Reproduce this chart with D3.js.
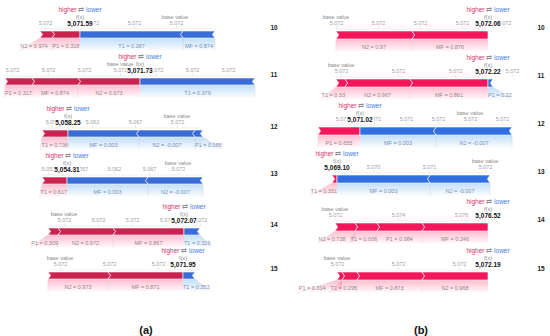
<!DOCTYPE html>
<html>
<head>
<meta charset="utf-8">
<script src="https://cdn.jsdelivr.net/npm/d3@7"></script>
<style>
  body { margin: 0; background: #fff; }
  svg { display: block; }
  text { font-family: "Liberation Sans", Arial, sans-serif; }
</style>
</head>
<body>
<div id="vis"></div>
<script>
// force plots for rows 10..15, panel (a) and panel (b)
const rowIds = ["10", "11", "12", "13", "14", "15"];
const captions = ["(a)", "(b)"];

// model output f(x) of each row
const fxA = [5071.59, 5071.73, 5058.25, 5054.31, 5072.07, 5071.95];
const fxB = [5072.06, 5072.22, 5071.02, 5069.10, 5076.52, 5072.19];

// features left to right: [name, feature value, effect]; effect > 0 pushes higher (red)
const featA = [
  [["N2", "0.974", 12], ["P1", "0.318", 28], ["T1", "0.387", -103], ["MF", "0.874", -32]],
  [["P1", "0.317", 27], ["MF", "0.874", 46], ["N2", "0.973", 62], ["T1", "0.379", -115]],
  [["T1", "0.736", 26], ["MF", "0.003", -71], ["N2", "-0.007", -56], ["P1", "0.588", -8]],
  [["T1", "0.617", 25], ["MF", "0.003", -81], ["N2", "-0.007", -55]],
  [["P1", "0.309", 10], ["N2", "0.972", 55], ["MF", "0.867", 71], ["T1", "0.326", -16]],
  [["N2", "0.973", 60], ["MF", "0.871", 75], ["T1", "0.353", -12]]
];
const featB = [
  [["N2", "0.97", 76], ["MF", "0.876", 76]],
  [["T1", "0.33", 9], ["N2", "0.967", 65], ["MF", "0.861", 78], ["P1", "0.32", -5]],
  [["P1", "0.655", 42], ["MF", "0.003", -76], ["N2", "-0.007", -76]],
  [["T1", "0.351", 5], ["MF", "0.003", -93], ["N2", "-0.007", -60]],
  [["N2", "0.738", 20], ["T1", "0.006", 22], ["P1", "0.984", 45], ["MF", "0.246", 66]],
  [["P1", "0.314", 5], ["T1", "0.295", 15], ["MF", "0.873", 65], ["N2", "0.968", 66]]
];

// axis ticks: [offset from f(x) in effect units, label]
const tickA = [
  [[-35, "5.072"], [12, "5.072"], [54, "5.072"], [96, "5.072"]],
  [[-128, "5.072"], [-92, "5.072"], [-56, "5.072"], [-20, "5.072"], [16, "5.072"], [52, "5.072"], [88, "5.072"]],
  [[-16, "5.057"], [24, "5.062"], [67, "5.067"], [109, "5.072"]],
  [[-19, "5.052"], [14, "5.057"], [47, "5.062"], [82, "5.067"], [111, "5.072"]],
  [[-120, "5.072"], [-86, "5.072"], [-52, "5.072"], [-18, "5.072"], [16, "5.072"]],
  [[-123, "5.072"], [-74, "5.072"], [-25, "5.072"]]
];
const tickB = [
  [[-152, "5.072"], [-110, "5.072"], [-68, "5.072"], [-26, "5.072"], [16, "5.072"]],
  [[-147, "5.072"], [-90, "5.072"], [-33, "5.072"], [24, "5.072"]],
  [[-18, "5.071"], [14, "5.071"], [46, "5.071"], [78, "5.072"], [110, "5.072"], [142, "5.072"]],
  [[36, "5.070"], [92, "5.071"], [148, "5.072"]],
  [[-153, "5.072"], [-90, "5.074"], [-27, "5.076"]],
  [[-151, "5.072"], [-90, "5.072"], [-29, "5.072"]]
];

// layout
const W = 550, H = 336;
const leftA = [40, 5, 42, 42, 48, 48], topA = [31, 78, 130, 177, 228, 272];
const leftB = [336, 336, 318, 332, 335, 337], topB = [31, 79, 127, 175, 223, 272];
const styleA = { red: "#c9234f", blue: "#3a6cd8", h: 7, idX: 274, capX: 146 };
const styleB = { red: "#f2165a", blue: "#2f6fe0", h: 8, idX: 541, capX: 421 };

const svg = d3.select("#vis").append("svg").attr("width", W).attr("height", H);
const defs = svg.append("defs");

function grad(id, color) {
  const g = defs.append("linearGradient").attr("id", id)
    .attr("x1", 0).attr("y1", 0).attr("x2", 0).attr("y2", 1);
  g.append("stop").attr("offset", "0%").attr("stop-color", color).attr("stop-opacity", 0.28);
  g.append("stop").attr("offset", "100%").attr("stop-color", color).attr("stop-opacity", 0.02);
}
grad("gRed", "#ff0d57");
grad("gBlue", "#1e88e5");

const fmtFx = d3.format(",.2f");

function drawForce(feats, fx, ticks, left, top, st) {
  const g = svg.append("g");
  const h = st.h, tip = 2.6;
  const redSum = d3.sum(feats.filter(f => f[2] > 0), f => f[2]);
  const blueSum = d3.sum(feats.filter(f => f[2] < 0), f => -f[2]);
  const x = d3.scaleLinear().domain([-redSum, blueSum]).range([left, left + redSum + blueSum]);
  const base = blueSum - redSum;

  // segments
  let cur = -redSum;
  const segs = feats.map(f => {
    const a = cur, b = cur + Math.abs(f[2]);
    cur = b;
    return { name: f[0], val: f[1], pos: f[2] > 0, a: a, b: b };
  });
  const reds = segs.filter(s => s.pos), blues = segs.filter(s => !s.pos);

  // labels under the bar (measure, then push apart outward from f(x))
  const labY = top + h + 9.5;
  const gBack = g.append("g"), gBar = g.append("g"), gLab = g.append("g");
  segs.forEach(s => {
    s.t = gLab.append("text").attr("y", labY).attr("font-size", 5.5)
      .attr("text-anchor", "middle")
      .attr("fill", s.pos ? "#948589" : "#7d90b8")
      .text(`${s.name} = ${s.val}`);
    s.w = s.t.node().getComputedTextLength();
  });
  const gap = 5;
  let lim = Infinity;
  reds.slice().reverse().forEach(s => {
    const x0 = x(s.a), x1 = x(s.b);
    let c = s.w <= x1 - x0 ? (x0 + x1) / 2 : x1 - s.w / 2;
    c = Math.min(c, lim - gap - s.w / 2);
    s.c = c; lim = c - s.w / 2;
  });
  lim = -Infinity;
  blues.forEach(s => {
    const x0 = x(s.a), x1 = x(s.b);
    let c = s.w <= x1 - x0 ? (x0 + x1) / 2 : x0 + s.w / 2;
    c = Math.max(c, lim + gap + s.w / 2);
    s.c = c; lim = c + s.w / 2;
  });
  segs.forEach(s => s.t.attr("x", s.c));

  // gradient backgrounds linking segments to their labels
  segs.forEach(s => {
    const yb = top + h, y2 = labY + 3;
    const l0 = Math.min(x(s.a), s.c - s.w / 2 - 1), l1 = Math.max(x(s.b), s.c + s.w / 2 + 1);
    const la = s.pos ? l0 : x(s.a), lb = s.pos ? x(s.b) : l1;
    gBack.append("path")
      .attr("d", `M${x(s.a)},${yb}L${x(s.b)},${yb}L${lb},${y2}L${la},${y2}Z`)
      .attr("fill", s.pos ? "url(#gRed)" : "url(#gBlue)");
    gBack.append("path")
      .attr("d", s.pos ? `M${x(s.a)},${yb}L${la},${y2}` : `M${x(s.b)},${yb}L${lb},${y2}`)
      .attr("stroke", "#d4d4d4").attr("stroke-width", 0.5).attr("fill", "none");
  });

  // bar segments with chevron separators
  const yt = top, ym = top + h / 2, yb = top + h;
  reds.forEach((s, i) => {
    const x0 = x(s.a), x1 = x(s.b);
    const last = i === reds.length - 1;
    const d = `M${x0},${yt}L${x1},${yt}` + (last ? "" : `L${x1 + tip},${ym}`) +
      `L${x1},${yb}L${x0},${yb}L${x0 + tip},${ym}Z`;
    gBar.append("path").attr("d", d).attr("fill", st.red)
      .attr("stroke", "#fff").attr("stroke-width", 0.6);
  });
  blues.slice().reverse().forEach((s, i) => {
    const x0 = x(s.a), x1 = x(s.b);
    const first = i === blues.length - 1;
    const d = `M${x0},${yt}L${x1},${yt}L${x1 - tip},${ym}L${x1},${yb}L${x0},${yb}` +
      (first ? "" : `L${x0 - tip},${ym}`) + "Z";
    gBar.append("path").attr("d", d).attr("fill", st.blue)
      .attr("stroke", "#fff").attr("stroke-width", 0.6);
  });

  // axis above the bar
  const axis = d3.axisTop(x)
    .tickValues(ticks.map(t => t[0]))
    .tickFormat((d, i) => ticks[i][1])
    .tickSize(2).tickSizeOuter(0).tickPadding(1.5);
  const ag = g.append("g").attr("transform", `translate(0,${top - 2.5})`).call(axis);
  ag.select(".domain").attr("stroke", "#e4e4e4").attr("stroke-width", 0.6);
  ag.selectAll(".tick line").attr("stroke", "#c8c8c8").attr("stroke-width", 0.5);
  ag.selectAll(".tick text").attr("fill", "#a0a0a0").attr("font-size", 5.5)
    .attr("font-family", "Liberation Sans, Arial, sans-serif");

  // f(x) value, titles
  g.append("text").attr("x", x(0)).attr("y", top - 5).attr("text-anchor", "middle")
    .attr("font-size", 6.5).attr("font-weight", "bold").attr("fill", "#111")
    .attr("stroke", "#fff").attr("stroke-width", 2.4).attr("paint-order", "stroke")
    .text(fmtFx(fx));
  g.append("text").attr("x", x(0)).attr("y", top - 12.5).attr("text-anchor", "middle")
    .attr("font-size", 5.5).attr("fill", "#8a8a8a").text("f(x)");
  g.append("text").attr("x", x(base)).attr("y", top - 12.5).attr("text-anchor", "middle")
    .attr("font-size", 5.5).attr("fill", "#8a8a8a").text("base value");
  const hl = g.append("text").attr("x", x(0)).attr("y", top - 19.5)
    .attr("text-anchor", "middle").attr("font-size", 6.5);
  hl.append("tspan").attr("fill", "#d2336a").text("higher ");
  hl.append("tspan").attr("fill", "#8a8a8a").text("\u21c4");
  hl.append("tspan").attr("fill", "#3f7de0").text(" lower");
}

function drawPanel(fxs, feats, ticks, lefts, tops, st, caption) {
  rowIds.forEach((id, i) => {
    drawForce(feats[i], fxs[i], ticks[i], lefts[i], tops[i], st);
    svg.append("text").attr("x", st.idX).attr("y", tops[i] - 1).attr("text-anchor", "middle")
      .attr("font-size", 6.5).attr("font-weight", "bold").attr("fill", "#222").text(id);
  });
  svg.append("text").attr("x", st.capX).attr("y", 334).attr("text-anchor", "middle")
    .attr("font-family", "Liberation Serif, Times New Roman, serif")
    .attr("font-size", 11).attr("font-weight", "bold").attr("fill", "#111").text(caption);
}

drawPanel(fxA, featA, tickA, leftA, topA, styleA, captions[0]);
drawPanel(fxB, featB, tickB, leftB, topB, styleB, captions[1]);
</script>
</body>
</html>
